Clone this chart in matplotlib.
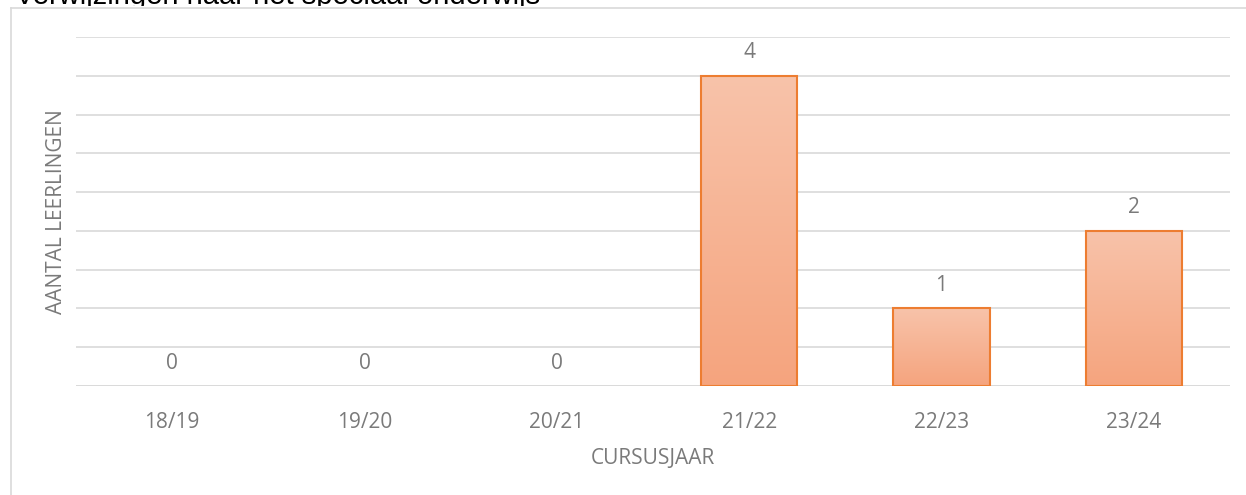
import matplotlib
matplotlib.use("Agg")
import matplotlib.pyplot as plt
import numpy as np
from matplotlib.colors import LinearSegmentedColormap
from matplotlib.patches import Rectangle
from matplotlib.lines import Line2D
from matplotlib.transforms import Bbox

categories = ["18/19", "19/20", "20/21", "21/22", "22/23", "23/24"]
values = [0, 0, 0, 4, 1, 2]
title = "Verwijzingen naar het speciaal onderwijs"
xlabel = "CURSUSJAAR"
ylabel = "AANTAL LEERLINGEN"

plt.rcParams['font.family'] = ['Open Sans', 'DejaVu Sans']
TXT = "#7A7A7A"
FS = 15
W, H = 1246, 495
fig = plt.figure(figsize=(W / 100, H / 100), dpi=100)

# outer chart frame (cut at right/bottom)
fig.add_artist(Line2D([10.5 / W, 10.5 / W], [0, 1 - 8 / H], color="#D9D9D9", lw=1.2, transform=fig.transFigure))
fig.add_artist(Line2D([10.5 / W, 1], [1 - 8 / H, 1 - 8 / H], color="#D9D9D9", lw=1.2, transform=fig.transFigure))

# title, cut off at the top as in the reference
t = fig.text(15 / W, 1 - 4 / H, title, fontsize=21, color="black", va="baseline", ha="left",
             family=["Liberation Sans", "DejaVu Sans"])
t.set_clip_box(Bbox.from_extents(0, H - 6, W, H))
t.set_clip_on(True)

ax = fig.add_axes([76 / W, 1 - 386 / H, (1230 - 76) / W, (386 - 37) / H])
for s in ax.spines.values():
    s.set_visible(False)
ax.set_yticks(np.arange(0, 4.51, 0.5))
ax.set_yticklabels([])
ax.tick_params(axis="y", length=0)
ax.grid(axis="y", color="#D9D9D9", lw=1.2)
ax.set_axisbelow(True)
ax.axhline(0, color="#D9D9D9", lw=1.2, zorder=1)

x = np.arange(len(categories))
cmap = LinearSegmentedColormap.from_list("g", ["#F5A47E", "#F8C3AA"])
grad = np.linspace(0, 1, 256).reshape(-1, 1)
bw = 0.5
for xi, v in zip(x, values):
    if v > 0:
        ax.imshow(grad, cmap=cmap, aspect="auto", origin="lower",
                  extent=[xi - bw / 2, xi + bw / 2, 0, v], zorder=2)
        ax.add_patch(Rectangle((xi - bw / 2, 0), bw, v, facecolor="none",
                               edgecolor="#ED7D31", lw=1.5, zorder=3))
    ax.annotate(str(v), (xi, v), xytext=(0, 16.5), textcoords="offset points",
                ha="center", va="center", fontsize=FS, color=TXT)
ax.set_xlim(-0.5, len(categories) - 0.5)
ax.set_ylim(0, 4.5)

ax.set_xticks(x)
ax.set_xticklabels(categories, fontsize=FS, color=TXT)
ax.tick_params(axis="x", length=0, pad=18.5)
ax.set_xlabel(xlabel, fontsize=FS, color=TXT)
ax.set_ylabel(ylabel, fontsize=FS, color=TXT)
ax.xaxis.set_label_coords(0.5, (386 - 458) / 349)
ax.xaxis.label.set_va("center")
ax.yaxis.set_label_coords((57 - 76) / 1154, 0.5)
ax.yaxis.label.set_va("center")

fig.savefig("out.png", dpi=100)
